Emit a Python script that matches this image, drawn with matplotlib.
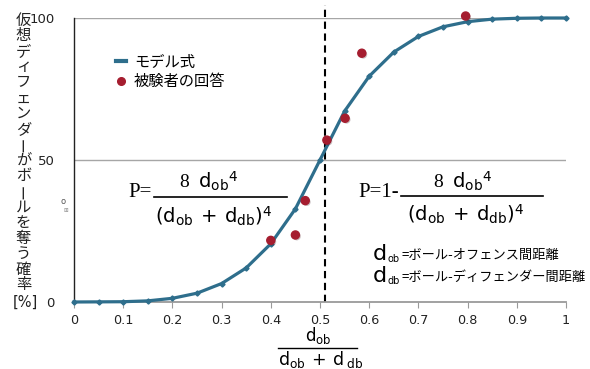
import matplotlib
matplotlib.use("Agg")
import matplotlib.pyplot as plt
from matplotlib.lines import Line2D
import matplotlib.patheffects as pe

plt.rcParams["font.family"] = ["DejaVu Sans", "Noto Sans CJK JP"]
plt.rcParams["mathtext.fontset"] = "custom"
plt.rcParams["mathtext.rm"] = "Liberation Serif"
plt.rcParams["mathtext.sf"] = "DejaVu Sans"
plt.rcParams["mathtext.it"] = "Liberation Serif:italic"

# model curve (read at every 0.05)
model_x = [0, 0.05, 0.1, 0.15, 0.2, 0.25, 0.3, 0.35, 0.4, 0.45, 0.5,
           0.55, 0.6, 0.65, 0.7, 0.75, 0.8, 0.85, 0.9, 0.95, 1.0]
model_y = [0, 0.05, 0.1, 0.4, 1.3, 3.1, 6.5, 12.0, 20.5, 32.8, 50.0,
           67.2, 79.5, 88.0, 93.5, 96.9, 98.7, 99.6, 99.9, 100.0, 100.0]

# subject answers
answer_x = [0.40, 0.45, 0.47, 0.514, 0.551, 0.585, 0.796]
answer_y = [21.7, 23.6, 35.7, 57.0, 64.7, 87.6, 100.7]

threshold_x = 0.51
x_ticks = [0, 0.1, 0.2, 0.3, 0.4, 0.5, 0.6, 0.7, 0.8, 0.9, 1]
x_tick_labels = ["0", "0.1", "0.2", "0.3", "0.4", "0.5", "0.6", "0.7", "0.8", "0.9", "1"]
y_ticks = [0, 50, 100]

ylabel_text = "仮想ディフェンダーがボールを奪う確率"
legend_labels = ["モデル式", "被験者の回答"]
def_labels = ["=ボール-オフェンス間距離", "=ボール-ディフェンダー間距離"]
def_subs = ["ob", "db"]

blue = "#2e6e8c"
red = "#a51d2f"
W, H = 590, 369

fig = plt.figure(figsize=(5.9, 3.69), dpi=100)
ax = fig.add_axes([74 / W, 1 - 302 / H, 492 / W, 284 / H])

ax.set_xlim(0, 1)
ax.set_ylim(0, 100)

for gy in [50, 100]:
    ax.axhline(gy, color="#a6a6a6", lw=1.0, zorder=1)

ax.plot(
    model_x,
    model_y,
    color=blue,
    lw=2.3,
    marker="D",
    ms=2.6,
    zorder=3,
    clip_on=False
)

ax.plot(
    answer_x,
    answer_y,
    ls="none",
    marker="o",
    ms=5.8,
    color=red,
    mec=red,
    zorder=4,
    clip_on=False,
    path_effects=[pe.SimplePatchShadow(offset=(1, -1), alpha=0.25), pe.Normal()]
)

ax.plot(
    [threshold_x, threshold_x],
    [0, 104.5],
    color="black",
    lw=1.5,
    ls=(0, (3.5, 2.2)),
    zorder=2,
    clip_on=False
)

for s in ["top", "right"]:
    ax.spines[s].set_visible(False)
ax.spines["left"].set_color("#222222")
ax.spines["left"].set_linewidth(1.0)
ax.spines["bottom"].set_color("#9a9a9a")
ax.spines["bottom"].set_linewidth(1.3)

ax.set_xticks(x_ticks)
ax.set_xticklabels(x_tick_labels, fontsize=9.2, color="#222222")
ax.set_yticks(y_ticks)
ax.set_yticklabels([str(v) for v in y_ticks], fontsize=9.5, color="#222222")
ax.tick_params(axis="x", direction="out", length=4, color="#9a9a9a", pad=4.5)
ax.tick_params(axis="y", length=0, pad=14)


def ftext(x, y, s, **kw):
    fig.text(x / W, 1 - y / H, s, **kw)


def fline(x0, x1, y, lw=1.2):
    fig.add_artist(Line2D([x0 / W, x1 / W], [1 - y / H, 1 - y / H],
                          color="black", lw=lw, transform=fig.transFigure))


# vertical y label
step = (285 - 20) / (len(ylabel_text) - 1)
for i, ch in enumerate(ylabel_text):
    rot = 90 if ch == "ー" else 0
    ftext(23.5, 20 + i * step, ch, fontsize=11, ha="center", va="center",
          rotation=rot, family=["Noto Sans CJK JP"], color="#222222")
ftext(25, 302, "[%]", fontsize=10.5, ha="center", va="center", color="#222222")
ftext(63, 202, "o", fontsize=6, ha="center", va="center", color="#555555")
ftext(66, 211, "⊞", fontsize=4, ha="center", va="center", color="#888888")

# legend
handles = [
    Line2D([], [], color=blue, lw=3),
    Line2D([], [], ls="none", marker="o", ms=5.5, color=red),
]
fig.legend(
    handles,
    legend_labels,
    loc="upper left",
    bbox_to_anchor=(102 / W, 1 - 40 / H),
    frameon=False,
    handlelength=0.7,
    handletextpad=0.5,
    labelspacing=0.15,
    prop={"family": ["Noto Sans CJK JP"], "size": 11},
)

# x label as fraction
ftext(318, 346.5, r"$\mathsf{d_{ob}}$", fontsize=12, ha="center", va="bottom")
fline(278, 357, 347.5, lw=1.0)
ftext(321, 349, r"$\mathsf{d_{ob}\ +\ d_{\ db}}$", fontsize=12.5, ha="center", va="top")

# left formula
ftext(152, 192, "P=", fontsize=15, ha="right", va="center", family="Liberation Serif")
fline(154, 287, 197)
ftext(209, 181, r"$8\ \ \mathsf{d_{ob}}^{\mathsf{4}}$", fontsize=14, ha="center", va="center")
ftext(214, 216, r"$\mathsf{(d_{ob}\ +\ d_{db})}^{\mathsf{4}}$", fontsize=14, ha="center", va="center")

# right formula
ftext(399, 192, "P=1-", fontsize=15, ha="right", va="center", family="Liberation Serif")
fline(401, 543, 196)
ftext(463, 181, r"$8\ \ \mathsf{d_{ob}}^{\mathsf{4}}$", fontsize=14, ha="center", va="center")
ftext(466, 214, r"$\mathsf{(d_{ob}\ +\ d_{db})}^{\mathsf{4}}$", fontsize=14, ha="center", va="center")

# definitions
for row, (sub, lab) in enumerate(zip(def_subs, def_labels)):
    y0 = 254 + row * 22
    ftext(373, y0, "d", fontsize=16, ha="left", va="center")
    ftext(387.5, y0 + 5, sub, fontsize=7, ha="left", va="center")
    ftext(401, y0 + 1, lab, fontsize=9.5, ha="left", va="center",
          family=["Noto Sans CJK JP"])

fig.savefig("out.png", dpi=100)
plt.close(fig)
